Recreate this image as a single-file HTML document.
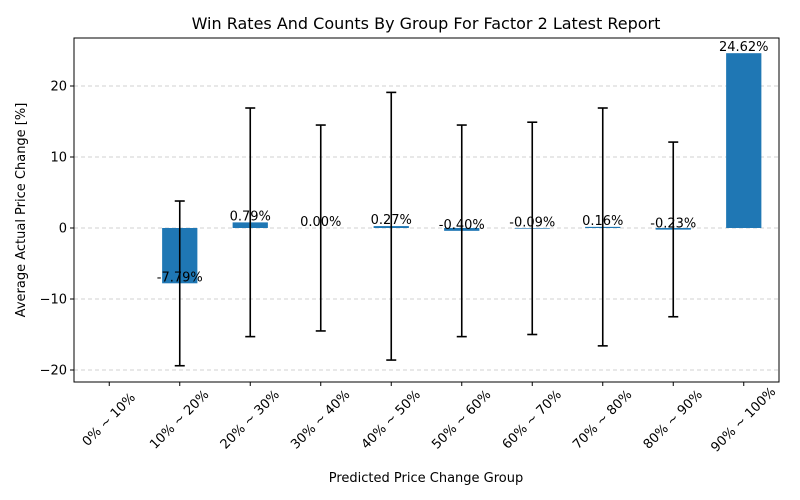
<!DOCTYPE html>
<html><head><meta charset="utf-8"><style>
body{margin:0;background:#fff;}
svg{display:block;font-family:"DejaVu Sans","Liberation Sans",sans-serif;}
</style></head><body>
<svg id="chart" width="800" height="500" viewBox="0 0 800 500">
<rect width="800" height="500" fill="#fff"/>
<text x="426" y="29" font-size="16" text-anchor="middle">Win Rates And Counts By Group For Factor 2 Latest Report</text>
<g id="grid"></g><g id="bars"></g><g id="errs"></g><g id="labels"></g><g id="axes"></g>
<text x="426" y="482" font-size="13" text-anchor="middle">Predicted Price Change Group</text>
<text transform="translate(25,210) rotate(-90)" font-size="13" text-anchor="middle">Average Actual Price Change [%]</text>
</svg>
<script>
const categories=["0% ~ 10%","10% ~ 20%","20% ~ 30%","30% ~ 40%","40% ~ 50%","50% ~ 60%","60% ~ 70%","70% ~ 80%","80% ~ 90%","90% ~ 100%"];
const values=[null,-7.79,0.79,0.00,0.27,-0.40,-0.09,0.16,-0.23,24.62];
const valueLabels=["","-7.79%","0.79%","0.00%","0.27%","-0.40%","-0.09%","0.16%","-0.23%","24.62%"];
const errUpper=[null,3.8,16.9,14.5,19.1,14.5,14.9,16.9,12.1,null];
const errLower=[null,-19.4,-15.3,-14.5,-18.6,-15.3,-15.0,-16.6,-12.5,null];
const yTicks=[-20,-10,0,10,20];

const L=74,R=779,T=38,B=382;
const yMin=-21.69,yMax=26.76;
const xs=i=>L+(i+0.5)*(R-L)/categories.length;
const ys=v=>B-(v-yMin)/(yMax-yMin)*(B-T);
const bw=(R-L)/categories.length*0.5;
const NS="http://www.w3.org/2000/svg";
function mk(tag,attrs,parent){const e=document.createElementNS(NS,tag);for(const k in attrs)e.setAttribute(k,attrs[k]);document.getElementById(parent).appendChild(e);return e;}

yTicks.forEach(t=>{
  const g=mk("line",{x1:L,x2:R,y1:ys(t),y2:ys(t),stroke:"#d0d0d0","stroke-dasharray":"4,3","stroke-width":0.9},"grid");
  
  
  const tk=mk("line",{x1:L-4,x2:L,y1:ys(t),y2:ys(t),stroke:"#000"},"axes");
  
  
  const tx=mk("text",{x:L-7,y:ys(t)+4.5,"font-size":13,"text-anchor":"end"},"axes");
  tx.textContent=(t<0?"\u2212"+(-t):t);
  
  
});
categories.forEach((c,i)=>{
  const x=xs(i);
  if(values[i]!==null){
    const v=values[i];
    const r=mk("rect",{x:x-bw/2,width:bw,y:Math.min(ys(v),ys(0)),height:Math.abs(ys(v)-ys(0)),fill:"#1f77b4"},"bars");
    
    
    const lb=mk("text",{x:x,y:ys(v)-2,"font-size":13,"text-anchor":"middle"},"labels");
    lb.textContent=valueLabels[i];
    
    
  }
  if(errUpper[i]!==null){
    const g=mk("g",{stroke:"#000","stroke-width":1.6},"errs");
    
    
    [["line",{x1:x,x2:x,y1:ys(errUpper[i]),y2:ys(errLower[i])}],["line",{x1:x-5,x2:x+5,y1:ys(errUpper[i]),y2:ys(errUpper[i])}],["line",{x1:x-5,x2:x+5,y1:ys(errLower[i]),y2:ys(errLower[i])}]].forEach(([t,a])=>{const e=document.createElementNS(NS,t);for(const k in a)e.setAttribute(k,a[k]);g.appendChild(e);});
  }
  const tk=mk("line",{x1:x,x2:x,y1:B,y2:B+4,stroke:"#000"},"axes");
  
  
  const tx=mk("text",{transform:`translate(${x},${B+38}) rotate(-45)`,"font-size":13,"text-anchor":"middle","dominant-baseline":"middle"},"axes");
  tx.textContent=c;
  
  
});
const fr=mk("rect",{x:L,y:T,width:R-L,height:B-T,fill:"none",stroke:"#000","stroke-width":1},"axes");


</script>
</body></html>
